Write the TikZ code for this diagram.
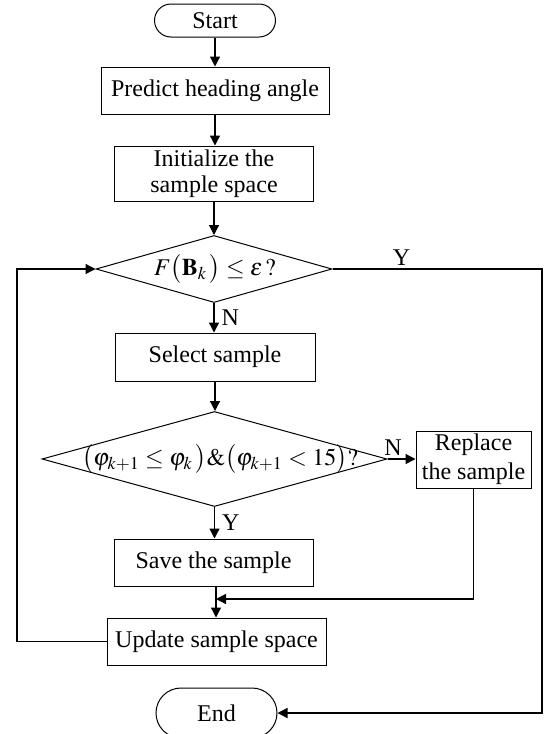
\documentclass[tikz,border=0pt]{standalone}
\usepackage{mathptmx}
\usepackage[no-math]{fontspec}
\setmainfont{Liberation Serif}
\usetikzlibrary{shapes.geometric,shapes.misc,arrows.meta,positioning,calc}
\tikzset{>={Triangle[length=5pt,width=5pt]},
  box/.style={draw,rectangle,inner sep=0pt,align=center,line width=0.5pt,font=\fontsize{12}{13}\selectfont},
  term/.style={draw,rounded rectangle,inner sep=0pt,minimum width=60.5pt,line width=0.5pt,font=\fontsize{12}{13}\selectfont},
  decision/.style={draw,diamond,inner sep=0pt,line width=0.5pt},
  cond/.style={inner sep=0pt,font=\fontsize{12}{13}\selectfont},
  lbl/.style={inner sep=1.5pt,font=\fontsize{12}{13}\selectfont}}

\begin{document}
\begin{tikzpicture}[x=0.5pt,y=-0.5pt,line width=0.65pt]
    \useasboundingbox (0,0) rectangle (545,734);
    \node [term,minimum height=16.5pt] (start) at (215,20.5) {Start};
    \node [box,minimum width=114pt,minimum height=23.5pt] (predict) at (215,90.5) {Predict heading angle};
    \node [box,minimum width=99.5pt,minimum height=27.5pt] (init) at (214,173.5) {Initialize the\\sample space};
    \node [decision,minimum width=118pt,minimum height=33.5pt] (cond1) at (214,269) {};
    \node [cond] (cond1text) at (215,269) {$F\bigl(\mathbf{B}_k\,\bigr)\le\varepsilon\,?$};
    \node [box,minimum width=100pt,minimum height=24pt] (select) at (215,357) {Select sample};
    \node [decision,minimum width=172.5pt,minimum height=47.5pt] (cond2) at (214.5,459) {};
    \node [cond] (cond2text) at (220,459) {$\bigl(\varphi_{k+1}\le\varphi_k\,\bigr)\&\bigl(\varphi_{k+1}<15\bigr)?$};
    \node [box,minimum width=57.5pt,minimum height=28.5pt,font=\fontsize{12}{14.5}\selectfont] (replace) at (473.5,459.5) {Replace\\the sample};
    \node [box,minimum width=99.5pt,minimum height=23.5pt] (save) at (213.5,562.5) {Save the sample};
    \node [box,minimum width=109.5pt,minimum height=23.5pt] (update) at (216.5,641.5) {Update sample space};
    \node [term,minimum height=25pt] (end) at (216.5,713) {End};
    \coordinate (right) at (542,269);
    \coordinate (left) at (17,642);
    \coordinate (merge) at (216,599);
    \draw [->] (start.south) -- (start.south |- predict.north);
    \draw [->] (predict.south) -- (predict.south |- init.north);
    \draw [->] (init.south) -- (init.south |- cond1.north);
    \draw [->] (cond1.south) -- node [lbl,right,xshift=2pt] {N} (cond1.south |- select.north);
    \draw [->] (select.south) -- (select.south |- cond2.north);
    \draw [->] (cond2.south) -- node [lbl,right,xshift=2pt] {Y} (cond2.south |- save.north);
    \draw [->] (cond2.east) -- node [lbl,above,pos=0.2] {N} (replace.west |- cond2.east);
    \draw [->] (replace.south) |- (merge);
    \draw [->] (save.south -| merge) -- (merge |- update.north);
    \draw [->] (update.west) -- (update.west -| left) |- (cond1.west);
    \draw [->] (cond1.east) -- node [lbl,above,pos=0.33] {Y} (cond1.east -| right) |- (end.east);
\end{tikzpicture}
\end{document}
